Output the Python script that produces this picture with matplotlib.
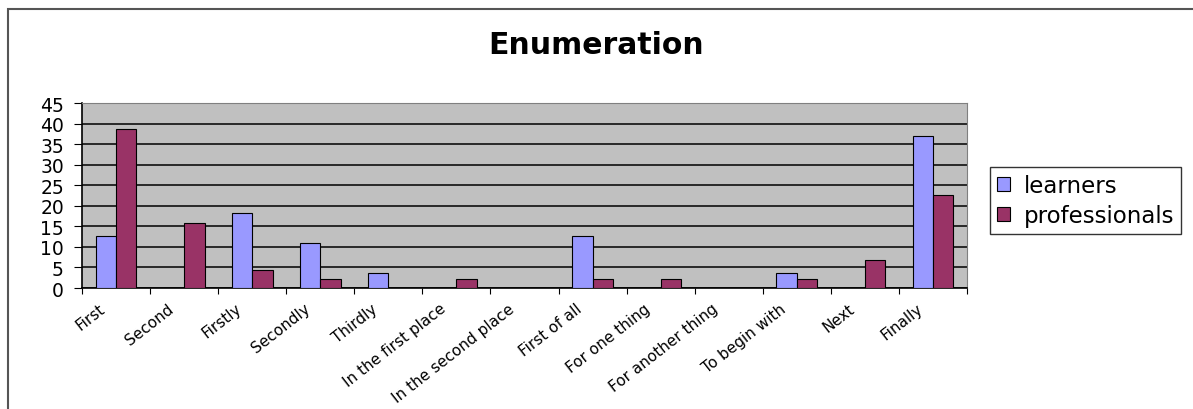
import numpy as np
import matplotlib.pyplot as plt
from matplotlib.patches import Rectangle

plt.rcParams['font.family'] = ['DejaVu Sans']

# share of each enumeration marker (%)
categories = ["First", "Second", "Firstly", "Secondly", "Thirdly",
              "In the first place", "In the second place", "First of all",
              "For one thing", "For another thing", "To begin with",
              "Next", "Finally"]
learners = [12.7, 0, 18.2, 11.0, 3.7, 0, 0, 12.7, 0, 0, 3.7, 0, 36.9]
professionals = [38.7, 15.8, 4.5, 2.2, 0, 2.3, 0, 2.3, 2.3, 0, 2.3, 6.9, 22.6]
yticks = list(range(0, 50, 5))

fig = plt.figure(figsize=(11.93, 4.10), dpi=100)
ax = fig.add_axes([0.0687, 0.2951, 0.7419, 0.4512])
ax.set_facecolor("#C0C0C0")

x = np.arange(len(categories))
w = 0.3
ax.bar(x - w / 2, learners, w, color="#9999FF", edgecolor="black",
       linewidth=0.8, label="learners", zorder=3)
ax.bar(x + w / 2, professionals, w, color="#993366", edgecolor="black",
       linewidth=0.8, label="professionals", zorder=3)

ax.set_xlim(-0.5, len(categories) - 0.5)
ax.set_ylim(0, 45)
ax.set_yticks(yticks)
ax.set_yticklabels([str(v) for v in yticks], fontsize=13.5)
ax.yaxis.grid(True, color="black", linewidth=1.1, zorder=1)
ax.set_axisbelow(True)

# category separators as ticks; slanted labels sit a little left of centre
ax.set_xticks(np.arange(-0.5, len(categories), 1.0))
ax.set_xticklabels([])
ax.set_xticks(x - 0.25, minor=True)
ax.set_xticklabels(categories, minor=True, rotation=38, ha="right",
                   va="top", rotation_mode="anchor", fontsize=11)
ax.tick_params(axis="x", which="minor", length=0, pad=9)
ax.tick_params(axis="x", which="major", length=4, direction="out")
ax.tick_params(axis="y", length=6, direction="out", pad=7)

for side in ("top", "right"):
    ax.spines[side].set_color("#808080")
for side in ("left", "bottom"):
    ax.spines[side].set_color("black")
    ax.spines[side].set_linewidth(1.2)

fig.suptitle("Enumeration", x=0.5, y=0.925, fontsize=21.5, fontweight="bold")

leg = fig.legend(loc="upper left", bbox_to_anchor=(0.830, 0.590),
                 fontsize=16.5, frameon=True, fancybox=False,
                 handlelength=0.55, handleheight=0.55, handletextpad=0.6,
                 borderpad=0.3, labelspacing=0.3, borderaxespad=0)
leg.get_frame().set_edgecolor("black")
leg.get_frame().set_linewidth(1.0)

# chart border
fig.patches.append(Rectangle((0.007, -0.05), 1.1, 1.025,
                             transform=fig.transFigure, fill=False,
                             edgecolor="#555555", linewidth=1.5))

fig.savefig("out.png", dpi=100)
